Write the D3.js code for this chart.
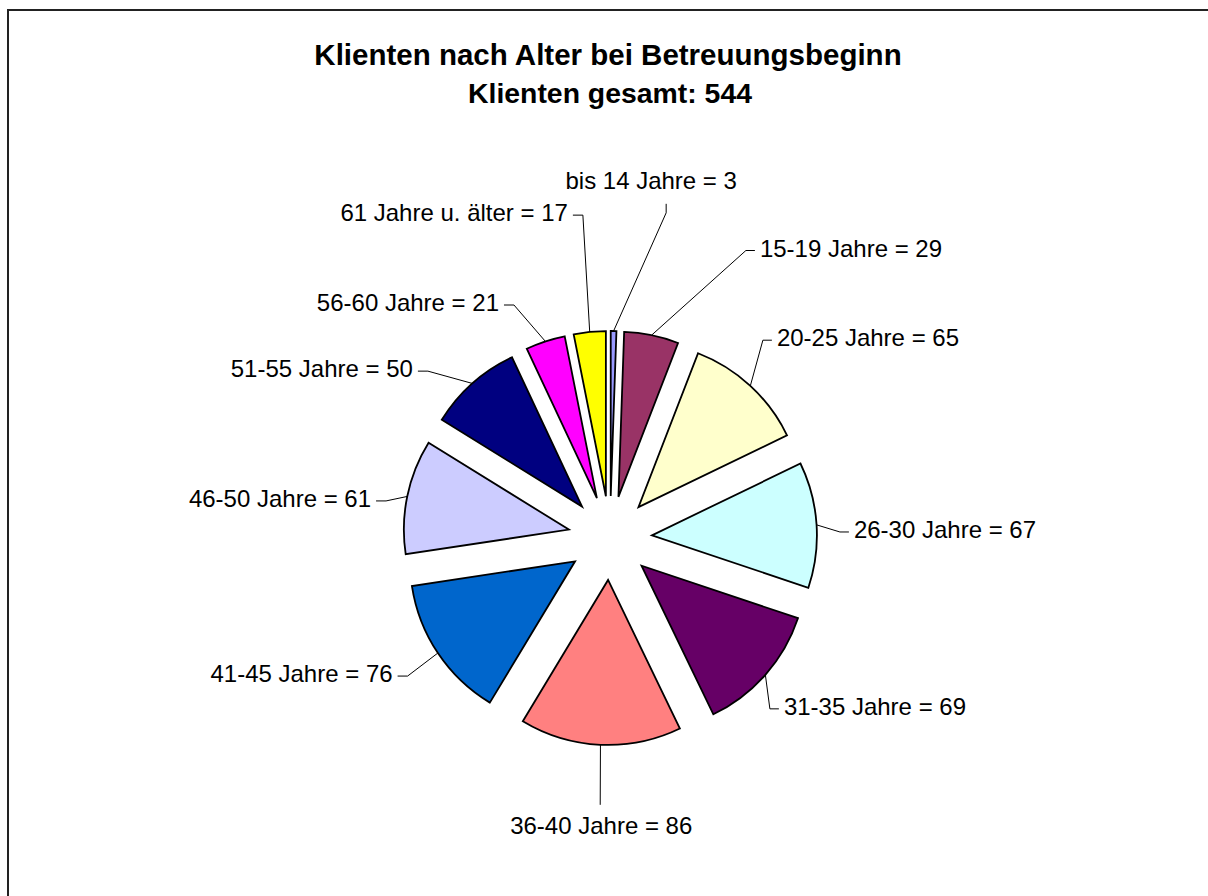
<!DOCTYPE html>
<html><head><meta charset="utf-8">
<script src="https://cdn.jsdelivr.net/npm/d3@7"></script>
<style>html,body{margin:0;background:#fff;overflow:hidden} svg{display:block}</style>
</head><body>
<script>
const categories = ["bis 14 Jahre","15-19 Jahre","20-25 Jahre","26-30 Jahre","31-35 Jahre","36-40 Jahre","41-45 Jahre","46-50 Jahre","51-55 Jahre","56-60 Jahre","61 Jahre u. älter"];
const values = [3,29,65,67,69,86,76,61,50,21,17];
const colors = ["#9999FF","#993366","#FFFFCC","#CCFFFF","#660066","#FF8080","#0066CC","#CCCCFF","#000080","#FF00FF","#FFFF00"];
const titleLines = ["Klienten nach Alter bei Betreuungsbeginn","Klienten gesamt: 544"];

// label layout (polar position of leader end: degrees clockwise from north, radius; side of text)
const labelAngle = [9.8,25.3,37.7,88.5,136.9,182.1,235.7,279.4,312.5,337.6,355.2];
const labelRadius = [330,318,250,230,234,267,245,227,247,252,324];
const labelSide = ["t","r","r","r","r","b","l","l","l","l","l"];
const labelDx = [-15,0,0,0,0,0,0,0,0,0,0];

const W = 1208, H = 896, cx = 610, cy = 538, R = 165, explode = 42;
const font = "'Liberation Sans', Arial, sans-serif";

const svg = d3.select("body").append("svg").attr("width", W).attr("height", H);
svg.append("rect").attr("x", 8).attr("y", 10).attr("width", W + 40).attr("height", H + 40)
  .attr("fill", "#fff").attr("stroke", "#222").attr("stroke-width", 2);

svg.append("text").attr("x", 608).attr("y", 65).attr("text-anchor", "middle")
  .attr("font-family", font).attr("font-weight", "bold").attr("font-size", 29.5).text(titleLines[0]);
svg.append("text").attr("x", 610).attr("y", 103).attr("text-anchor", "middle")
  .attr("font-family", font).attr("font-weight", "bold").attr("font-size", 28.4).text(titleLines[1]);

const data = categories.map((c, i) => ({ cat: c, value: values[i], color: colors[i], i }));
const pie = d3.pie().sort(null).value(d => d.value).startAngle(0).endAngle(2 * Math.PI);
const arc = d3.arc().innerRadius(0).outerRadius(R);
const arcs = pie(data);

const g = svg.append("g").attr("transform", `translate(${cx},${cy})`);
const polar = (ang, r) => [r * Math.sin(ang), -r * Math.cos(ang)];

g.selectAll("path.slice").data(arcs).join("path").attr("class", "slice")
  .attr("d", arc)
  .attr("transform", d => { const m = (d.startAngle + d.endAngle) / 2; const [x, y] = polar(m, explode); return `translate(${x},${y})`; })
  .attr("fill", d => d.data.color).attr("stroke", "#000").attr("stroke-width", 1.8).attr("stroke-linejoin", "miter");

arcs.forEach((d, i) => {
  const m = (d.startAngle + d.endAngle) / 2;
  const [sx, sy] = polar(m, explode + R);
  const [ax, ay] = polar(labelAngle[i] * Math.PI / 180, labelRadius[i]);
  const side = labelSide[i];
  let pts = [[sx, sy], [ax, ay]], tx, ty, anchor;
  if (side === "r") { pts.push([ax + 9, ay]); tx = ax + 14; ty = ay + 6; anchor = "start"; }
  else if (side === "l") { pts.push([ax - 10, ay]); tx = ax - 15; ty = ay + 6; anchor = "end"; }
  else if (side === "t") { pts.push([ax, ay - 9]); tx = ax + labelDx[i]; ty = ay - 24; anchor = "middle"; }
  else { tx = ax + 1; ty = ay + 29; anchor = "middle"; }
  g.append("path").attr("d", d3.line()(pts)).attr("fill", "none").attr("stroke", "#000").attr("stroke-width", 1);
  g.append("text").attr("x", tx).attr("y", ty).attr("text-anchor", anchor)
    .attr("font-family", font).attr("font-size", 24).attr("fill", "#000")
    .text(`${d.data.cat} = ${d.data.value}`);
});
</script>
</body></html>
